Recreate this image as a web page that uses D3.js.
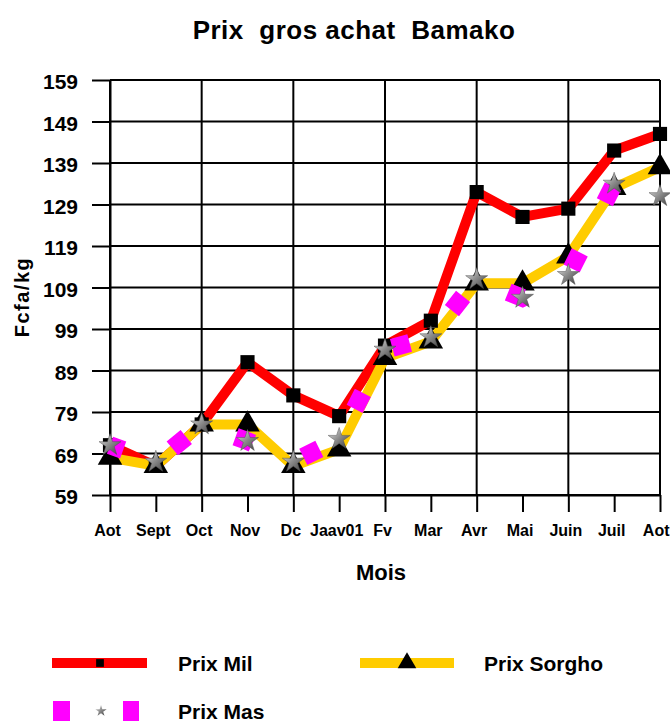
<!DOCTYPE html>
<html><head><meta charset="utf-8">
<script src="https://cdn.jsdelivr.net/npm/d3@7"></script>
<style>
html,body{margin:0;padding:0;background:#fff;}
text{font-family:"Liberation Sans","Arial",sans-serif;font-weight:bold;fill:#000;}
</style></head>
<body><svg id="c" width="670" height="722"></svg>
<script>
const months = ["Aot","Sept","Oct","Nov","Dc","Jaav01","Fv","Mar","Avr","Mai","Juin","Juil","Aot"];
const prixMil    = [71, 66, 76, 91, 83, 78, 95, 101, 132, 126, 128, 142, 146];
const prixSorgho = [68, 66, 76, 76, 66, 70, 92, 96, 110, 110, 116.5, 133, 138];
const prixMas    = [71, 67, 76, 72, 67, 72.5, 94, 97, 111, 106.5, 112, 134, 131];
const yTicks = [59, 69, 79, 89, 99, 109, 119, 129, 139, 149, 159];

const svg = d3.select("#c");
const x = d3.scaleLinear().domain([0, months.length - 1]).range([110, 660]);
const y = d3.scaleLinear().domain([59, 159]).range([495, 80]);

// gradient for stars
const defs = svg.append("defs");
const g = defs.append("linearGradient").attr("id","starG").attr("x1","0").attr("y1","0").attr("x2","1").attr("y2","1");
g.append("stop").attr("offset","0").attr("stop-color","#e8e8e8");
g.append("stop").attr("offset","0.5").attr("stop-color","#8a8a8a");
g.append("stop").attr("offset","1").attr("stop-color","#3a3a3a");

// title
svg.append("text").attr("x", 354).attr("y", 39).attr("text-anchor","middle")
  .style("font-size","26px").style("letter-spacing","0.5px").style("white-space","pre").text("Prix  gros achat  Bamako");

// y ticks
const yAxis = d3.axisLeft(y).tickValues(yTicks).tickSize(18).tickSizeOuter(0).tickPadding(14);
const ya = svg.append("g").attr("transform","translate(110,0)").call(yAxis);
ya.selectAll(".tick line").attr("stroke","#000").attr("stroke-width",2);
ya.selectAll(".tick text").style("font-size","21px").attr("dy","0.42em").attr("font-family",null);
ya.select(".domain").attr("stroke","#000").attr("stroke-width",2);
// horizontal grid
svg.append("g").selectAll("line").data(yTicks).join("line")
  .attr("x1",110).attr("x2",660).attr("y1",d=>y(d)).attr("y2",d=>y(d))
  .attr("stroke","#000").attr("stroke-width",2);

// vertical grid (every other month)
svg.append("g").selectAll("line").data(d3.range(0, months.length, 2)).join("line")
  .attr("x1",d=>x(d)).attr("x2",d=>x(d)).attr("y1",y(159)).attr("y2",y(59))
  .attr("stroke","#000").attr("stroke-width",2);

// x axis
const xAxis = d3.axisBottom(x).tickValues(d3.range(months.length)).tickFormat(i=>months[i])
  .tickSize(17).tickSizeOuter(0).tickPadding(13);
const xa = svg.append("g").attr("transform",`translate(0,${y(59)})`).call(xAxis);
xa.selectAll(".tick line").attr("stroke","#000").attr("stroke-width",2);
xa.select(".domain").attr("stroke","#000").attr("stroke-width",2);
xa.selectAll(".tick text").style("font-size","16px").attr("dx","-3").attr("font-family",null);
xa.selectAll(".tick text").filter((d,i)=>i===months.length-1)
  .attr("text-anchor","end").attr("dx",null).attr("x",9);

// axis titles
svg.append("text").attr("x",381).attr("y",580).attr("text-anchor","middle").style("font-size","22px").text("Mois");
svg.append("text").attr("transform","translate(29,297) rotate(-90)").attr("text-anchor","middle")
  .style("font-size","20px").style("letter-spacing","1.5px").text("Fcfa/kg");

const line = d3.line().x((d,i)=>x(i)).y(d=>y(d));

// Mil line
svg.append("path").datum(prixMil).attr("d",line).attr("fill","none").attr("stroke","#ff0000").attr("stroke-width",10).attr("stroke-linejoin","round");
// Sorgho line
svg.append("path").datum(prixSorgho).attr("d",line).attr("fill","none").attr("stroke","#ffcc00").attr("stroke-width",10).attr("stroke-linejoin","round");

// Mil markers
svg.append("g").selectAll("path").data(prixMil).join("path")
  .attr("transform",(d,i)=>`translate(${x(i)},${y(d)})`)
  .attr("d", d3.symbol(d3.symbolSquare, 200)()).attr("fill","#000");
// Sorgho markers
svg.append("g").selectAll("path").data(prixSorgho).join("path")
  .attr("transform",(d,i)=>`translate(${x(i)},${y(d)})`)
  .attr("d", d3.symbol(d3.symbolTriangle, 260)()).attr("fill","#000");

// Mas: dashed magenta squares along line
svg.append("path").datum(prixMas).attr("d",line).attr("fill","none").attr("stroke","#ff00ff")
  .attr("stroke-width",18).attr("stroke-dasharray","18 56").attr("stroke-dashoffset","4");
// Mas stars
const starPath = d3.symbol(d3.symbolStar, 150)();
svg.append("g").selectAll("path").data(prixMas).join("path")
  .attr("transform",(d,i)=>`translate(${x(i)},${y(d)})`)
  .attr("d", starPath).attr("fill","url(#starG)").attr("stroke","#555").attr("stroke-width",0.5);

// Legend
const lg = svg.append("g");
lg.append("line").attr("x1",52).attr("x2",147).attr("y1",663).attr("y2",663).attr("stroke","#ff0000").attr("stroke-width",10);
lg.append("path").attr("transform","translate(100,663)").attr("d",d3.symbol(d3.symbolSquare,60)()).attr("fill","#000");
lg.append("text").attr("x",178).attr("y",671).style("font-size","21px").text("Prix Mil");
lg.append("line").attr("x1",360).attr("x2",454).attr("y1",663).attr("y2",663).attr("stroke","#ffcc00").attr("stroke-width",10);
lg.append("path").attr("transform","translate(407,663)").attr("d",d3.symbol(d3.symbolTriangle,150)()).attr("fill","#000");
lg.append("text").attr("x",484).attr("y",671).style("font-size","21px").text("Prix Sorgho");
lg.append("line").attr("x1",53).attr("x2",139).attr("y1",711).attr("y2",711).attr("stroke","#ff00ff")
  .attr("stroke-width",20).attr("stroke-dasharray","17 53");
lg.append("path").attr("transform","translate(101,711)").attr("d",d3.symbol(d3.symbolStar,40)()).attr("fill","url(#starG)");
lg.append("text").attr("x",178).attr("y",719).style("font-size","21px").text("Prix Mas");
</script></body></html>
